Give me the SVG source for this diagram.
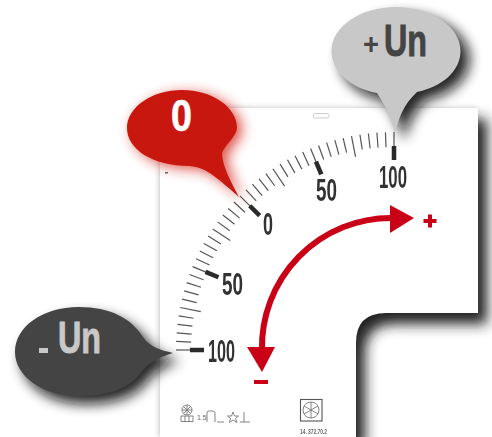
<svg xmlns="http://www.w3.org/2000/svg" width="492" height="437" viewBox="0 0 492 437">
<style>
.lbl{font-family:"Liberation Sans",Arial,sans-serif;font-weight:700}
.scale{font-size:31px;fill:#333}
.call{font-size:44px}
.tick{stroke:#555;stroke-width:1.2;fill:none}
.big{stroke:#2a2a2a;stroke-width:4.5;fill:none}
.red{fill:#c90016}
.sym{fill:none;stroke:#777;stroke-width:.9}
</style>
<defs>
<filter id="b6" x="-40%" y="-40%" width="180%" height="180%"><feGaussianBlur stdDeviation="6.5"/></filter>
<filter id="b3" x="-30%" y="-30%" width="160%" height="160%"><feGaussianBlur stdDeviation="2.5"/></filter>
<filter id="soft" x="-5%" y="-5%" width="110%" height="110%"><feGaussianBlur stdDeviation="0.5"/></filter>
<path id="plate" d="M160 108H478V313H386Q356 313 356 343V437H160Z"/>
<path id="s" class="tick" d="M394 132V147"/>
<path id="l" class="tick" d="M394 132V153"/>
<path id="B" class="big" d="M394 146V160"/>
<g id="five"><use href="#s" transform="rotate(-2.25 394 350)"/><use href="#s" transform="rotate(-4.5 394 350)"/><use href="#s" transform="rotate(-6.75 394 350)"/><use href="#s" transform="rotate(-9 394 350)"/><use href="#l" transform="rotate(-11.25 394 350)"/></g>
<g id="ten"><use href="#five"/><use href="#five" transform="rotate(-11.25 394 350)"/></g>
<path id="redB" d="M222 153C224 146 237 136 237 128C237 107 212 90 182 90C152 90 127 107 127 128C127 149 152 166 190 166C205 168 212 173 239 197C230 180 222 165 222 153Z"/>
<path id="greyB" d="M396 7C360 7 331.500 27 331.500 51C331.500 71 350 88 377 93C385 105 392 120 395 133C399 118 403 105 417 92C442 87 460.500 71 460.500 51C460.500 27 432 7 396 7Z"/>
<path id="darkB" d="M79 307C42 307 15 327 15 352C15 376 42 396 79 396C110 396 131 388 143 370C150 362 160 357 173 353C160 350 150 347 143 337C131 318 110 307 79 307Z"/>
</defs>

<g id="dial-plate">
<use href="#plate" fill="#bbb" opacity=".5" filter="url(#b3)" transform="translate(-1 -1)"/>
<use href="#plate" fill="#222" filter="url(#b6)" transform="translate(9 11)"/>
<use href="#plate" fill="#fff"/>
</g>

<g id="gauge-scale" filter="url(#soft)">
<use href="#l"/><use href="#ten"/><use href="#ten" transform="rotate(-22.5 394 350)"/><use href="#ten" transform="rotate(-45 394 350)"/><use href="#ten" transform="rotate(-67.5 394 350)"/>
<use href="#B"/><use href="#B" transform="rotate(-22.5 394 350)"/><use href="#B" transform="rotate(-45 394 350)"/><use href="#B" transform="rotate(-67.5 394 350)"/><use href="#B" transform="rotate(-90 394 350)"/>
<text class="lbl scale" x="379" y="188" textLength="28" lengthAdjust="spacingAndGlyphs">100</text>
<text class="lbl scale" x="316" y="201" textLength="21" lengthAdjust="spacingAndGlyphs">50</text>
<text class="lbl scale" x="263" y="235" textLength="10" lengthAdjust="spacingAndGlyphs">0</text>
<text class="lbl scale" x="222" y="295" textLength="21" lengthAdjust="spacingAndGlyphs">50</text>
<text class="lbl scale" x="208" y="362" textLength="27" lengthAdjust="spacingAndGlyphs">100</text>
</g>

<g id="direction-arrow" filter="url(#soft)">
<path d="M262 350A129 129 0 0 1 391 218" fill="none" stroke="#c90016" stroke-width="6"/>
<path class="red" d="M390 205L414 218L390 233Z"/>
<path class="red" d="M247 347H275L262 372Z"/>
<path class="red" d="M428 214.500H432V219H436.500V223H432V227.500H428V223H423.500V219H428Z"/>
<rect class="red" x="254" y="380" width="14" height="4"/>
</g>

<g id="plate-marks" filter="url(#soft)">
<rect x="313" y="113.500" width="16" height="4.500" rx="2.200" fill="#fff" stroke="#ccc"/>
<rect x="165" y="172" width="3" height="1.500" fill="#666"/>
<g class="sym">
<circle cx="187" cy="410" r="5"/><path d="M187 405V415M182 410H192M183.500 406.500L190.500 413.500M190.500 406.500L183.500 413.500"/>
<path d="M181 416H193V421.500H181ZM185 416V421.500M189 416V421.500"/>
<path d="M207 422V413Q207 411 209 411H213Q215 411 215 413V422"/>
<path d="M217 422H224"/>
<path d="M233 412L234.500 416L238.500 416L235.500 418.500L237 422.500L233 420L229.500 422.500L230.500 418.500L227.500 416L231.500 416Z"/>
<path d="M244 412V422M240 422H250"/>
</g>
<text x="197" y="420" font-family="Liberation Sans,Arial,sans-serif" font-size="7" fill="#666">1.5</text>
<g class="sym">
<rect x="300.500" y="399.500" width="21.500" height="21.500" stroke="#555" stroke-width="1.100"/>
<circle cx="311" cy="410" r="8"/>
<path d="M311 402V418M304 406L318 414M318 406L304 414"/>
</g>
<text x="300" y="434" font-family="Liberation Sans,Arial,sans-serif" font-size="6.500" font-weight="700" fill="#666" textLength="27" lengthAdjust="spacingAndGlyphs">14. 372.70.2</text>
</g>

<g id="callout-plus">
<use href="#greyB" fill="#111" opacity=".9" filter="url(#b6)" transform="translate(9 8)"/>
<use href="#greyB" fill="#c8c8c8"/>
<text class="lbl" font-size="30" x="363" y="54" fill="#444" textLength="16" lengthAdjust="spacingAndGlyphs">+</text>
<text class="lbl call" x="384" y="56" fill="#444" stroke="#444" stroke-width=".9" textLength="43" lengthAdjust="spacingAndGlyphs">Un</text>
</g>

<g id="callout-zero">
<use href="#redB" fill="#d5281f" opacity=".8" filter="url(#b6)" transform="translate(5 3)"/>
<use href="#redB" fill="#c8170f"/>
<text class="lbl call" x="171" y="131" fill="#fff" stroke="#fff" stroke-width=".6" textLength="21" lengthAdjust="spacingAndGlyphs">0</text>
</g>

<g id="callout-minus">
<use href="#darkB" fill="#111" opacity=".9" filter="url(#b6)" transform="translate(7 8)"/>
<use href="#darkB" fill="#444"/>
<rect x="39" y="348" width="9" height="5" fill="#c8c8c8"/>
<text class="lbl call" x="58" y="353" fill="#c8c8c8" stroke="#c8c8c8" stroke-width=".9" textLength="43" lengthAdjust="spacingAndGlyphs">Un</text>
</g>
</svg>
